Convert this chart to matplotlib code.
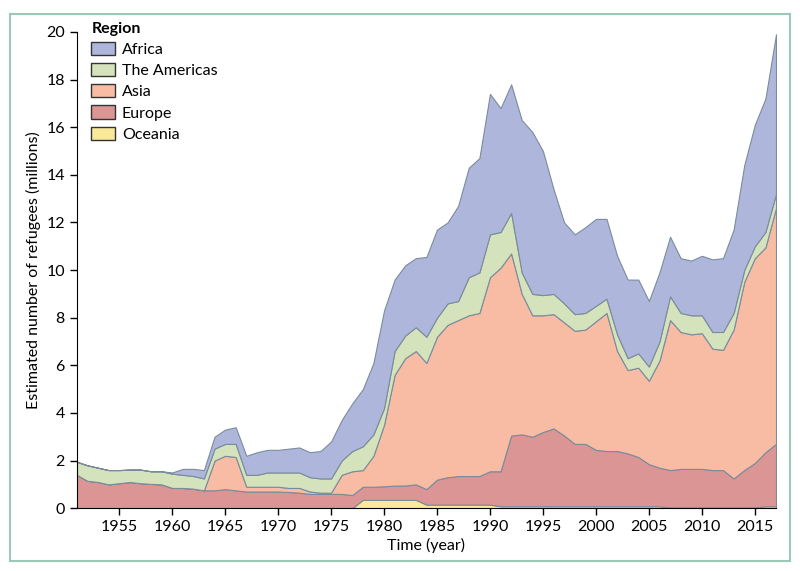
import numpy as np
import matplotlib.pyplot as plt
from matplotlib.patches import Rectangle
from matplotlib import font_manager

# Anos e valores (milhões), acumulados de baixo para cima
anos = np.arange(1951, 2018)

oceania = [0]*27 + [0.35]*6 + [0.15]*7 + [0.08]*16 + [0.03]*9 + [0.08]*2

topo_europa = [1.4, 1.15, 1.1, 1.0, 1.05, 1.1, 1.05, 1.02, 1.0, 0.85,
               0.85, 0.82, 0.75, 0.75, 0.8, 0.75, 0.7, 0.7, 0.7, 0.7,
               0.68, 0.65, 0.6, 0.6, 0.6, 0.6, 0.55, 0.9, 0.9, 0.92,
               0.95, 0.95, 1.0, 0.8, 1.2, 1.3, 1.35, 1.35, 1.35, 1.55,
               1.55, 3.05, 3.1, 3.0, 3.2, 3.35, 3.05, 2.7, 2.7, 2.45,
               2.4, 2.4, 2.3, 2.15, 1.85, 1.7, 1.6, 1.65, 1.65, 1.65,
               1.6, 1.6, 1.25, 1.6, 1.9, 2.35, 2.7]

topo_asia = [1.4, 1.15, 1.1, 1.0, 1.05, 1.1, 1.05, 1.02, 1.0, 0.85,
             0.85, 0.82, 0.75, 2.0, 2.2, 2.15, 0.9, 0.9, 0.9, 0.9,
             0.85, 0.85, 0.7, 0.65, 0.65, 1.4, 1.55, 1.6, 2.2, 3.5,
             5.6, 6.3, 6.6, 6.1, 7.2, 7.7, 7.9, 8.1, 8.2, 9.7,
             10.1, 10.7, 9.0, 8.1, 8.1, 8.15, 7.8, 7.45, 7.5, 7.85,
             8.2, 6.6, 5.8, 5.9, 5.35, 6.2, 7.9, 7.4, 7.3, 7.35,
             6.7, 6.65, 7.5, 9.5, 10.5, 10.95, 12.6]

topo_americas = [1.95, 1.8, 1.7, 1.6, 1.6, 1.62, 1.62, 1.55, 1.55, 1.45,
                 1.4, 1.35, 1.25, 2.5, 2.7, 2.7, 1.4, 1.4, 1.5, 1.5,
                 1.5, 1.5, 1.3, 1.25, 1.25, 2.0, 2.4, 2.6, 3.1, 4.2,
                 6.6, 7.25, 7.6, 7.2, 8.0, 8.6, 8.7, 9.7, 9.9, 11.5,
                 11.6, 12.4, 9.9, 9.0, 8.95, 9.0, 8.6, 8.15, 8.2, 8.5,
                 8.8, 7.3, 6.3, 6.5, 5.95, 7.0, 8.9, 8.2, 8.1, 8.1,
                 7.4, 7.4, 8.2, 10.0, 11.0, 11.6, 13.2]

topo_africa = [1.95, 1.8, 1.7, 1.6, 1.6, 1.62, 1.62, 1.55, 1.55, 1.5,
               1.65, 1.65, 1.6, 3.0, 3.3, 3.4, 2.2, 2.35, 2.45, 2.45,
               2.5, 2.55, 2.35, 2.4, 2.8, 3.7, 4.4, 5.0, 6.1, 8.3,
               9.6, 10.2, 10.5, 10.55, 11.7, 12.0, 12.7, 14.3, 14.7, 17.4,
               16.8, 17.8, 16.3, 15.8, 15.0, 13.4, 12.0, 11.5, 11.8, 12.15,
               12.15, 10.6, 9.6, 9.6, 8.7, 9.9, 11.4, 10.5, 10.4, 10.6,
               10.45, 10.5, 11.7, 14.4, 16.1, 17.2, 19.9]

# Convertendo os topos acumulados em valores por região
oceania = np.array(oceania)
europa = np.array(topo_europa) - oceania
asia = np.array(topo_asia) - np.array(topo_europa)
americas = np.array(topo_americas) - np.array(topo_asia)
africa = np.array(topo_africa) - np.array(topo_americas)

regioes = ['Oceania', 'Europe', 'Asia', 'The Americas', 'Africa']
cores = ['#fbe99a', '#dc9595', '#f7bca3', '#d4e3bb', '#aeb7db']

# Fonte mais estreita, parecida com a do original
nomes = [f.name for f in font_manager.fontManager.ttflist]
for fonte in ['Liberation Sans Narrow', 'Lato']:
    if fonte in nomes:
        plt.rcParams['font.family'] = [fonte, 'DejaVu Sans']
        break
plt.rcParams['font.size'] = 11

fig = plt.figure(figsize=(8, 5.71), dpi=100)
ax = fig.add_axes([0.096, 0.11, 0.874, 0.834])

ax.stackplot(anos, oceania, europa, asia, americas, africa,
             colors=cores, edgecolor='#7a8c9c', linewidth=0.8)

ax.set_xlim(1951, 2017)
ax.set_ylim(0, 20)
ax.set_xticks(range(1955, 2016, 5))
ax.set_yticks(range(0, 21, 2))
ax.spines['top'].set_visible(False)
ax.spines['right'].set_visible(False)
ax.tick_params(direction='out', length=5, width=1, labelsize=11.5)
ax.set_xlabel('Time (year)', fontsize=11.5, labelpad=3)
ax.set_ylabel('Estimated number of refugees (millions)', fontsize=11.5)

# Legenda na ordem de cima para baixo
handles = [Rectangle((0, 0), 1, 1, facecolor=c, edgecolor='#333333', linewidth=1)
           for c in cores[::-1]]
leg = ax.legend(handles, regioes[::-1], title='Region', loc='upper left',
                bbox_to_anchor=(0.005, 1.045),
                frameon=False, fontsize=11.5, handlelength=1.5, handleheight=0.9,
                labelspacing=0.38, handletextpad=0.4, borderaxespad=0.3,
                title_fontsize=11.5)
leg.get_title().set_fontweight('bold')
leg._legend_box.align = 'left'

# Moldura verde clara em volta da figura
fig.patches.append(Rectangle((0.013, 0.018), 0.974, 0.958, transform=fig.transFigure,
                             fill=False, edgecolor='#9cc9b5', linewidth=1.5))

fig.savefig('out.png', dpi=100)
